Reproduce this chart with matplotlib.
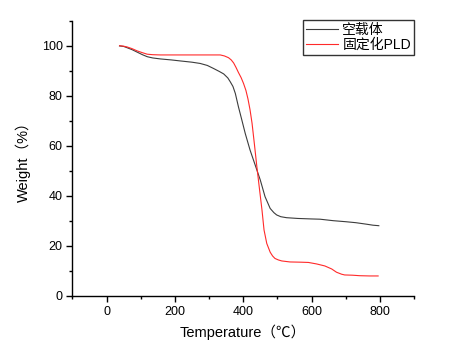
import matplotlib
matplotlib.use("Agg")
import matplotlib.pyplot as plt
from matplotlib.ticker import MultipleLocator

# TGA curves: temperature (°C) vs residual weight (%)
carrier_temp = [38, 50, 60, 75, 90, 105, 119, 135, 158, 190, 216, 250, 274, 295, 313,
                330, 343, 355, 362, 370, 377, 386, 396, 406, 420, 435, 450, 464, 479,
                490, 498, 510, 527, 560, 600, 625, 664, 700, 730, 761, 780, 797]
carrier_wt = [100, 99.8, 99.3, 98.5, 97.5, 96.5, 95.7, 95.2, 94.8, 94.4, 94.0, 93.5,
              93.0, 92.2, 91.0, 89.8, 88.8, 87.2, 85.7, 83.8, 81.0, 75.7, 70.4, 65.0,
              58.4, 52.4, 46.4, 39.7, 35.0, 33.3, 32.4, 31.7, 31.3, 31.0, 30.8, 30.7,
              30.1, 29.7, 29.3, 28.7, 28.3, 28.1]

pld_temp = [38, 50, 60, 75, 90, 105, 119, 135, 158, 200, 250, 300, 333, 345, 357, 365,
            372, 379, 386, 394, 401, 408, 414, 420, 426, 433, 440, 448, 455, 461, 469,
            479, 486, 493, 503, 513, 537, 570, 591, 615, 639, 659, 673, 688, 697, 720,
            741, 770, 795]
pld_wt = [100.1, 99.9, 99.6, 98.9, 98.0, 97.3, 96.7, 96.5, 96.4, 96.4, 96.4, 96.4,
          96.4, 96.0, 95.3, 94.4, 93.2, 91.4, 89.4, 87.3, 85.0, 82.2, 78.8, 74.5, 69.0,
          60.5, 51.7, 42.4, 34.4, 26.4, 21.0, 17.5, 16.0, 15.0, 14.4, 14.0, 13.6, 13.5,
          13.4, 12.8, 12.0, 10.8, 9.5, 8.7, 8.4, 8.3, 8.1, 8.0, 8.0]

series_names = ["空载体", "固定化PLD"]

plt.rcParams["font.family"] = ["Liberation Sans", "Noto Sans CJK SC"]

fig = plt.figure(figsize=(4.67, 3.49), dpi=100)
ax = fig.add_axes([0.155, 0.152, 0.7315, 0.788])

ax.plot(carrier_temp, carrier_wt, color="#3c3c3c", lw=0.8, label=series_names[0])
ax.plot(pld_temp, pld_wt, color="#ff2a2a", lw=0.8, label=series_names[1])

ax.set_xlim(-100, 900)
ax.set_ylim(0, 110)
ax.xaxis.set_minor_locator(MultipleLocator(100))
ax.yaxis.set_minor_locator(MultipleLocator(10))
ax.set_xticks([0, 200, 400, 600, 800])
ax.set_yticks([0, 20, 40, 60, 80, 100])

for side in ("top", "right"):
    ax.spines[side].set_visible(False)
for side in ("left", "bottom"):
    ax.spines[side].set_linewidth(1.0)
    ax.spines[side].set_color("black")

ax.tick_params(which="major", direction="out", length=4, width=1, labelsize=9, pad=3)
ax.tick_params(which="minor", direction="out", length=2.5, width=1)

ax.set_xlabel("Temperature（℃）", fontsize=10.5, labelpad=5)
ax.set_ylabel("Weight（%）", fontsize=10.5, labelpad=8)

leg = ax.legend(loc="upper right", bbox_to_anchor=(1.0, 1.005), fontsize=10,
                frameon=True, fancybox=False, handlelength=2.3, handletextpad=0.3,
                borderpad=0.22, labelspacing=0.1, borderaxespad=0)
leg.get_frame().set_edgecolor("black")
leg.get_frame().set_linewidth(1.0)

fig.savefig("out.png", dpi=100, facecolor="white")
